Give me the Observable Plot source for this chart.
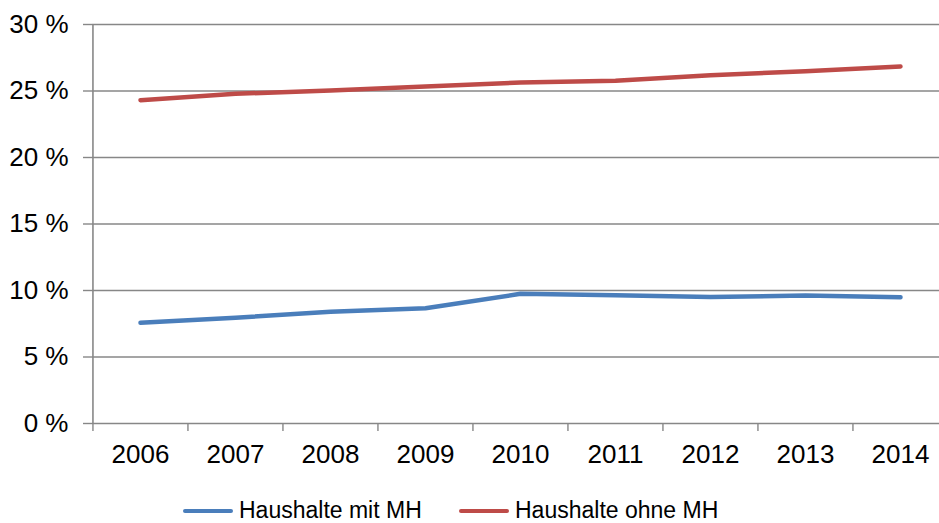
<!DOCTYPE html>
<html>
<head>
<meta charset="utf-8">
<script src="https://cdn.jsdelivr.net/npm/d3@7"></script>
<script src="https://cdn.jsdelivr.net/npm/@observablehq/plot@0.6"></script>
<style>
  html, body { margin: 0; padding: 0; background: #fff; }
  body { width: 939px; height: 523px; overflow: hidden; font-family: "Liberation Sans", Arial, sans-serif; }
  #legend { position: relative; height: 43px; }
  .item { position: absolute; top: 9px; height: 43px; display: flex; align-items: center; font-size: 23px; color: #000; }
  .swatch { width: 50px; height: 4px; border-radius: 2px; margin-right: 6px; }
</style>
</head>
<body>
<div id="chart"></div>
<div id="legend"></div>
<script>
const years = ["2006","2007","2008","2009","2010","2011","2012","2013","2014"];
const mitMH = [7.57, 7.95, 8.4, 8.67, 9.75, 9.65, 9.52, 9.62, 9.5];
const ohneMH = [24.31, 24.79, 25.04, 25.34, 25.64, 25.77, 26.19, 26.49, 26.84];
const yTicks = [0, 5, 10, 15, 20, 25, 30];
const seriesNames = ["Haushalte mit MH", "Haushalte ohne MH"];
const seriesColors = ["#4a7ebb", "#be4b48"];

const rows = [];
years.forEach((y, i) => {
  rows.push({year: y, value: mitMH[i], series: seriesNames[0]});
  rows.push({year: y, value: ohneMH[i], series: seriesNames[1]});
});

const xRange = [92, 948];
const step = (xRange[1] - xRange[0]) / years.length;
const gray = "#878787";

const chart = Plot.plot({
  width: 939,
  height: 480,
  marginTop: 24,
  marginBottom: 57,
  marginLeft: 92,
  marginRight: 0,
  style: {fontFamily: "'Liberation Sans', Arial, sans-serif", fontSize: "26px", color: "#000", background: "#fff", overflow: "hidden"},
  x: {type: "point", domain: years, range: xRange, padding: 0.5},
  y: {domain: [0, 30]},
  color: {domain: seriesNames, range: seriesColors},
  marks: [
    Plot.ruleY(yTicks, {stroke: gray, strokeWidth: 1.4}),
    Plot.axisY({ticks: yTicks, tickSize: 9, tickPadding: 15, tickFormat: d => d + " %", stroke: gray, strokeWidth: 1.4, label: null, fill: "#000", fontSize: 26}),
    Plot.axisX({ticks: years, tickSize: 8, stroke: gray, strokeWidth: 1.4, text: null, dx: -step / 2, label: null}),
    Plot.axisX({ticks: years, tickSize: 0, tickPadding: 21, label: null, fill: "#000", fontSize: 26}),
    Plot.ruleX([years[0]], {dx: -step / 2, stroke: gray, strokeWidth: 1.6}),
    Plot.lineY(rows, {x: "year", y: "value", z: "series", stroke: "series", strokeWidth: 4.5, strokeLinecap: "round", strokeLinejoin: "round"})
  ]
});
document.getElementById("chart").appendChild(chart);

const legend = document.getElementById("legend");
const lefts = [183, 459];
seriesNames.forEach((name, i) => {
  const item = document.createElement("div");
  item.className = "item";
  item.style.left = lefts[i] + "px";
  const sw = document.createElement("div");
  sw.className = "swatch";
  sw.style.background = seriesColors[i];
  const t = document.createElement("span");
  t.textContent = name;
  item.appendChild(sw);
  item.appendChild(t);
  legend.appendChild(item);
});
</script>
</body>
</html>
